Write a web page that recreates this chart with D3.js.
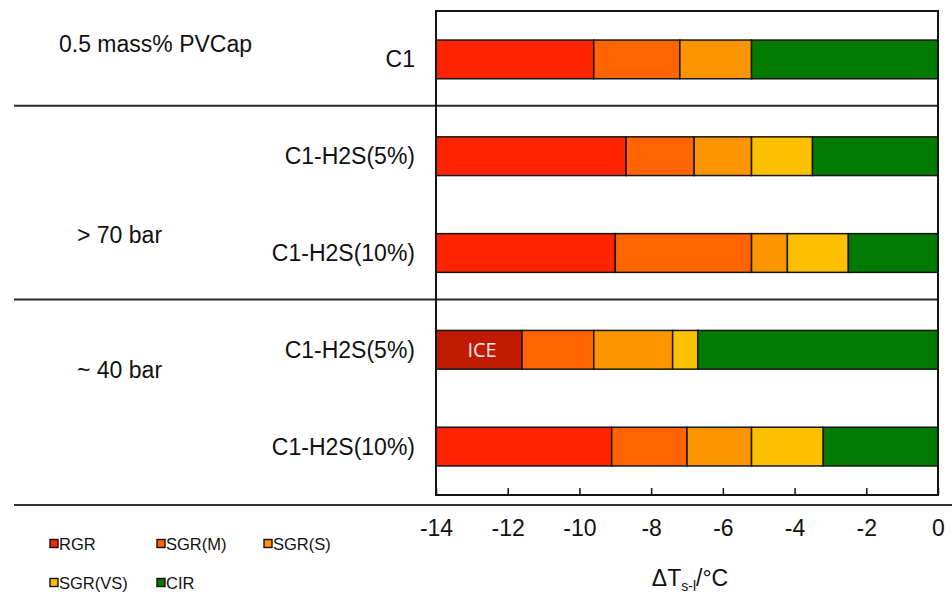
<!DOCTYPE html>
<meta charset="utf-8">
<style>
    html, body { margin: 0; padding: 0; background: #fff; }
    svg { display: block; }
    text { font-family: "Liberation Sans", Arial, sans-serif; fill: #111; }
</style>
<body>
<svg width="952" height="594"></svg>
<script src="https://cdn.jsdelivr.net/npm/d3@7"></script>
<script>
    // rows, top to bottom
    const categories = ["C1", "C1-H2S(5%)", "C1-H2S(10%)", "C1-H2S(5%)", "C1-H2S(10%)"];
    const groups = [
        { label: "0.5 mass% PVCap", rows: [0] },
        { label: "> 70 bar", rows: [1, 2] },
        { label: "~ 40 bar", rows: [3, 4] }
    ];
    // first segment kind of each row (RGR, or ICE for the 40 bar 5% case)
    const firstKind = ["RGR", "RGR", "RGR", "ICE", "RGR"];
    // right end of each segment on the ΔT axis (°C), left end = previous right end
    const rgrTo = [-9.6, -8.7, -9.0, -11.6, -9.1];
    const sgrMTo = [-7.2, -6.8, -5.2, -9.6, -7.0];
    const sgrSTo = [-5.2, -5.2, -4.2, -7.4, -5.2];
    const sgrVSTo = [-5.2, -3.5, -2.5, -6.7, -3.2];
    const cirTo = [0, 0, 0, 0, 0];
    const xTicks = [-14, -12, -10, -8, -6, -4, -2, 0];
    const legendKeys = ["RGR", "SGR(M)", "SGR(S)", "SGR(VS)", "CIR"];

    const colors = {
        "RGR": "#ff2400",
        "ICE": "#c01a00",
        "SGR(M)": "#ff6400",
        "SGR(S)": "#fc9500",
        "SGR(VS)": "#fcc000",
        "CIR": "#007a00"
    };

    const svg = d3.select("svg");
    const plot = { left: 436, right: 938, top: 11, bottom: 495 };

    const x = d3.scaleLinear().domain([-14, 0]).range([plot.left, plot.right]);
    const y = d3.scaleBand()
        .domain(categories.map((d, i) => i))
        .range([plot.top, plot.bottom])
        .paddingInner(0.6)
        .paddingOuter(0.3);

    // build segments from the arrays
    const segments = [];
    categories.forEach((c, i) => {
        const ends = [
            [firstKind[i], rgrTo[i]],
            ["SGR(M)", sgrMTo[i]],
            ["SGR(S)", sgrSTo[i]],
            ["SGR(VS)", sgrVSTo[i]],
            ["CIR", cirTo[i]]
        ];
        let from = x.domain()[0];
        ends.forEach(([kind, to]) => {
            if (to > from) segments.push({ row: i, kind: kind, from: from, to: to });
            from = to;
        });
    });

    // group separators
    const sepY = [1, 3].map(r => y(r) - y.step() * 0.32);
    svg.selectAll("line.sep")
        .data(sepY)
        .join("line")
        .attr("x1", 14).attr("x2", plot.right)
        .attr("y1", d => d).attr("y2", d => d)
        .attr("stroke", "#2a2a2a").attr("stroke-width", 2);
    svg.append("line")
        .attr("x1", 14).attr("x2", 952)
        .attr("y1", plot.bottom + 10).attr("y2", plot.bottom + 10)
        .attr("stroke", "#333").attr("stroke-width", 2);

    // bars
    svg.append("g").selectAll("rect")
        .data(segments)
        .join("rect")
        .attr("x", d => x(d.from))
        .attr("width", d => x(d.to) - x(d.from))
        .attr("y", d => y(d.row))
        .attr("height", y.bandwidth())
        .attr("fill", d => colors[d.kind])
        .attr("stroke", "#161616")
        .attr("stroke-width", 1.5);

    svg.selectAll("text.ice")
        .data(segments.filter(d => d.kind === "ICE"))
        .join("text")
        .attr("x", d => (x(d.from) + x(d.to)) / 2 + 3)
        .attr("y", d => y(d.row) + y.bandwidth() / 2 + 7)
        .attr("text-anchor", "middle")
        .style("font-family", "'Open Sans', sans-serif")
        .style("font-size", "20px")
        .style("fill", "#f8e6e6")
        .text("ICE");

    // frame
    svg.append("rect")
        .attr("x", plot.left).attr("y", plot.top)
        .attr("width", plot.right - plot.left).attr("height", plot.bottom - plot.top)
        .attr("fill", "none").attr("stroke", "#151515").attr("stroke-width", 2);

    // x axis, ticks pointing inward, plain hyphen minus
    const xAxis = svg.append("g")
        .attr("transform", `translate(0,${plot.bottom})`)
        .call(d3.axisBottom(x).tickValues(xTicks).tickFormat(d => String(d))
            .tickSizeInner(-7).tickSizeOuter(0).tickPadding(0));
    xAxis.select(".domain").remove();
    xAxis.selectAll(".tick line").attr("stroke", "#151515").attr("stroke-width", 1.5);
    xAxis.selectAll(".tick text")
        .attr("y", 41).attr("dy", null)
        .style("font-size", "23px")
        .style("font-family", "'Liberation Sans', Arial, sans-serif")
        .attr("fill", "#111");

    // axis title ΔTs-l/°C
    const title = svg.append("text")
        .attr("x", 690).attr("y", 586)
        .attr("text-anchor", "middle")
        .style("font-size", "23px");
    title.append("tspan").text("ΔT");
    title.append("tspan").attr("dy", 5).style("font-size", "14px").text("s-l");
    title.append("tspan").attr("dy", -5).text("/°C");

    // row labels
    svg.selectAll("text.cat")
        .data(categories)
        .join("text")
        .attr("x", 415)
        .attr("y", (d, i) => y(i) + y.bandwidth() / 2 + 8)
        .attr("text-anchor", "end")
        .style("font-size", "23px")
        .text(d => d);

    // group labels
    const groupY = [51.5, 243, 378];
    svg.selectAll("text.grp")
        .data(groups)
        .join("text")
        .attr("x", (d, i) => i === 0 ? 59 : 77)
        .attr("y", (d, i) => groupY[i])
        .style("font-size", "23px")
        .text(d => d.label);

    // legend
    const legend = svg.append("g").selectAll("g")
        .data(legendKeys)
        .join("g")
        .attr("transform", (d, i) => `translate(${50 + (i % 3) * 107},${i < 3 ? 550 : 589})`);
    legend.append("rect")
        .attr("x", 0).attr("y", -10.5)
        .attr("width", 8).attr("height", 8)
        .attr("fill", d => colors[d])
        .attr("stroke", "#111").attr("stroke-width", 1.4);
    legend.append("text")
        .attr("x", 9)
        .style("font-size", "16.5px")
        .text(d => d);
</script>
</body>
